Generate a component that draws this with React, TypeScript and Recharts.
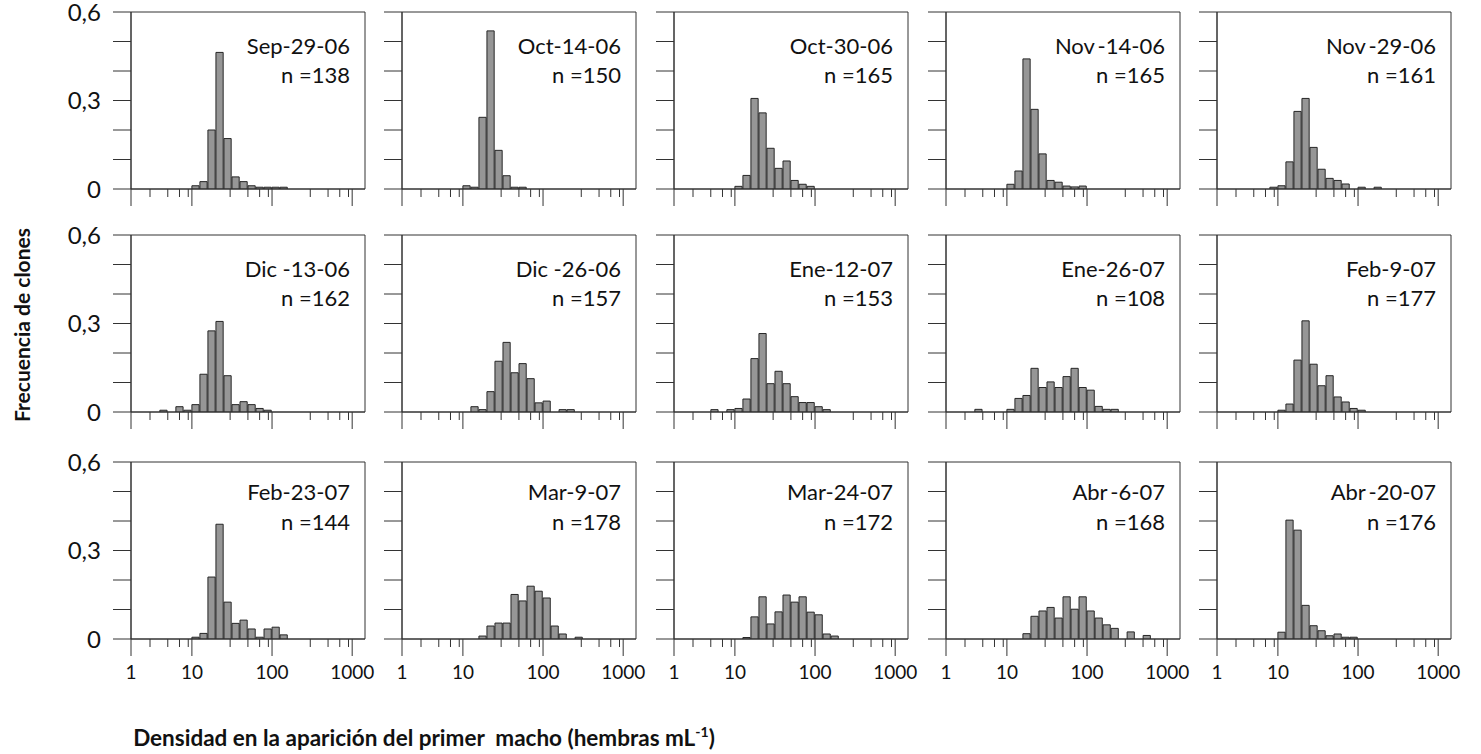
import React from 'react';
import { BarChart, Bar, XAxis, YAxis, ReferenceArea } from 'recharts';

// fechas de muestreo y tamaño de muestra por panel
const panelDates = [
  'Sep-29-06', 'Oct-14-06', 'Oct-30-06', 'Nov\u2009-14-06', 'Nov\u2009-29-06',
  'Dic -13-06', 'Dic -26-06', 'Ene-12-07', 'Ene-26-07', 'Feb-9-07',
  'Feb-23-07', 'Mar-9-07', 'Mar-24-07', 'Abr\u2009-6-07', 'Abr\u2009-20-07',
];
const panelN = [138, 150, 165, 165, 161, 162, 157, 153, 108, 177, 144, 178, 172, 168, 176];

// índice del primer intervalo (ancho 0.1 en log10) de cada histograma
const firstBin = [10, 10, 10, 10, 9, 6, 11, 7, 6, 10, 10, 12, 11, 12, 10];

// frecuencias relativas por intervalo
const sep2906 = [0.011, 0.025, 0.2, 0.463, 0.171, 0.041, 0.025, 0.011, 0.006, 0.006, 0.006, 0.006];
const oct1406 = [0.011, 0.006, 0.243, 0.536, 0.131, 0.045, 0.006, 0.006];
const oct3006 = [0.009, 0.046, 0.307, 0.258, 0.138, 0.07, 0.095, 0.029, 0.016, 0.009];
const nov1406 = [0.016, 0.061, 0.441, 0.27, 0.119, 0.029, 0.023, 0.01, 0.007, 0.01];
const nov2906 = [0.006, 0.011, 0.092, 0.263, 0.307, 0.141, 0.067, 0.036, 0.029, 0.017, 0, 0.006, 0, 0.006];
const dic1306 = [0.006, 0, 0.018, 0.006, 0.025, 0.128, 0.275, 0.307, 0.123, 0.025, 0.035, 0.025, 0.012, 0.006];
const dic2606 = [0.018, 0.008, 0.069, 0.172, 0.236, 0.133, 0.164, 0.113, 0.031, 0.037, 0, 0.008, 0.008];
const ene1207 = [0.008, 0, 0.008, 0.012, 0.044, 0.181, 0.266, 0.096, 0.138, 0.096, 0.052, 0.032, 0.032, 0.018, 0.008];
const ene2607 = [0.009, 0, 0, 0, 0.009, 0.046, 0.056, 0.148, 0.083, 0.102, 0.083, 0.12, 0.148, 0.083, 0.074, 0.019, 0.009, 0.009];
const feb0907 = [0.006, 0.027, 0.176, 0.309, 0.162, 0.089, 0.123, 0.051, 0.034, 0.012, 0.006];
const feb2307 = [0.006, 0.019, 0.21, 0.389, 0.125, 0.053, 0.064, 0.034, 0.006, 0.034, 0.04, 0.014];
const mar0907 = [0.01, 0.044, 0.054, 0.054, 0.151, 0.129, 0.179, 0.162, 0.139, 0.044, 0.017, 0, 0.006];
const mar2407 = [0.005, 0.075, 0.143, 0.051, 0.092, 0.149, 0.125, 0.143, 0.091, 0.082, 0.017, 0.01];
const abr0607 = [0.018, 0.077, 0.095, 0.107, 0.071, 0.143, 0.101, 0.143, 0.095, 0.071, 0.048, 0.036, 0, 0.024, 0, 0.012];
const abr2007 = [0.023, 0.403, 0.369, 0.114, 0.045, 0.028, 0.011, 0.017, 0.006, 0.006];

const frequencies = [
  sep2906, oct1406, oct3006, nov1406, nov2906,
  dic1306, dic2606, ene1207, ene2607, feb0907,
  feb2307, mar0907, mar2407, abr0607, abr2007,
];

const xTickValues = [1, 3, 5, 7, 9, 10, 30, 50, 70, 90, 100, 300, 500, 700, 900, 1000];
const xTickLabels = ['1', '', '', '', '', '10', '', '', '', '', '100', '', '', '', '', '1000'];
const yTickValues = [0, 0.1, 0.2, 0.3, 0.4, 0.5, 0.6];
const yTickLabels = ['0', '', '', '0,3', '', '', '0,6'];

// eje x en unidades log10
const BIN = 0.1;
const XMIN = 0.24;
const XMAX = 3.16;

const COL_LEFT = [131, 402, 674, 946, 1217];
const ROW_TOP = [12, 235, 462];
const LABEL_Y1 = [41.5, 41.5, 38];
const LABEL_Y2 = [70.5, 70.5, 68];
const PW = 234;
const PH = 177;
const YW = 80;
const TM = 20;
const XH = 56;
const RM = 30;
const BAR_PX = (PW * BIN) / (XMAX - XMIN);

const LINE = '#333';
const TEXT = '#111';
const FONT = 'Lato, "Open Sans", sans-serif';

const xTickPositions = xTickValues.map((v) => (v === 1 ? XMIN : Math.log10(v)));

const XTick = ({ x, payload, showLabel }: any) => {
  const axisY = TM + PH;
  const i = xTickPositions.findIndex((p) => Math.abs(p - payload.value) < 1e-6);
  const label = xTickLabels[i] || '';
  const major = label !== '';
  return (
    <g>
      <line x1={x} x2={x} y1={axisY} y2={axisY + (major ? 17 : 8)} stroke={LINE} strokeWidth={1} />
      {showLabel && major && (
        <text x={x} y={axisY + 40} textAnchor="middle" fontSize={19} fill={TEXT} fontFamily={FONT}>
          {label}
        </text>
      )}
    </g>
  );
};

const Panel = ({ idx }: { idx: number }) => {
  const r = Math.floor(idx / 5);
  const c = idx % 5;
  const data = frequencies[idx].map((f, i) => ({ x: (firstBin[idx] + i + 0.5) * BIN, f }));
  return (
    <div style={{ position: 'absolute', left: COL_LEFT[c] - YW, top: ROW_TOP[r] - TM }}>
      <BarChart
        width={YW + PW + RM}
        height={TM + PH + XH}
        data={data}
        margin={{ top: TM, right: RM, bottom: 0, left: 0 }}
        barCategoryGap={0}
        barGap={0}
      >
        <XAxis
          type="number"
          dataKey="x"
          domain={[XMIN, XMAX]}
          allowDataOverflow
          ticks={xTickPositions}
          interval={0}
          height={XH}
          tickLine={false}
          tickSize={0}
          tickMargin={0}
          axisLine={{ stroke: LINE }}
          tick={(p: any) => <XTick {...p} showLabel={r === 2} />}
        />
        <YAxis
          type="number"
          domain={[0, 0.6]}
          allowDataOverflow
          ticks={yTickValues}
          interval={0}
          width={YW}
          tickSize={18}
          tickMargin={12}
          axisLine={{ stroke: LINE }}
          tickLine={{ stroke: LINE }}
          tick={{ fill: TEXT, fontSize: 24, fontFamily: FONT }}
          tickFormatter={(v: number) => {
            if (c !== 0) return '';
            const i = yTickValues.findIndex((t) => Math.abs(t - v) < 1e-6);
            return yTickLabels[i] || '';
          }}
        />
        <ReferenceArea
          x1={XMIN}
          x2={XMAX}
          y1={0}
          y2={0.6}
          fill="none"
          fillOpacity={0}
          stroke={LINE}
          strokeWidth={1}
          ifOverflow="visible"
        />
        <Bar
          dataKey="f"
          fill="#969696"
          stroke="#262626"
          strokeWidth={1}
          barSize={BAR_PX}
          isAnimationActive={false}
        />
      </BarChart>
    </div>
  );
};

export default function App() {
  return (
    <div
      style={{
        position: 'absolute',
        left: 0,
        top: 0,
        width: 1481,
        height: 754,
        background: '#fff',
        fontFamily: FONT,
      }}
    >
      {frequencies.map((_, i) => (
        <Panel key={i} idx={i} />
      ))}
      <svg
        width={1481}
        height={754}
        style={{ position: 'absolute', left: 0, top: 0, pointerEvents: 'none' }}
        fontFamily={FONT}
      >
        {panelDates.map((d, i) => {
          const r = Math.floor(i / 5);
          const c = i % 5;
          const x = COL_LEFT[c] + PW - 15;
          return (
            <g key={i} fill={TEXT} fontSize={22} textAnchor="end">
              <text x={x} y={ROW_TOP[r] + LABEL_Y1[r]}>{d}</text>
              <text x={x} y={ROW_TOP[r] + LABEL_Y2[r]}>{`n =${panelN[i]}`}</text>
            </g>
          );
        })}
        <text
          transform="translate(30,325) rotate(-90)"
          textAnchor="middle"
          fontSize={21}
          fontWeight="bold"
          fill={TEXT}
        >
          Frecuencia de clones
        </text>
        <text
          x={424}
          y={746}
          textAnchor="middle"
          fontSize={22.5}
          fontWeight="bold"
          fill={TEXT}
          style={{ whiteSpace: 'pre' }}
        >
          {'Densidad en la aparición del primer  macho (hembras mL'}
          <tspan dy={-9} fontSize={14}>-1</tspan>
          <tspan dy={9}>)</tspan>
        </text>
      </svg>
    </div>
  );
}
